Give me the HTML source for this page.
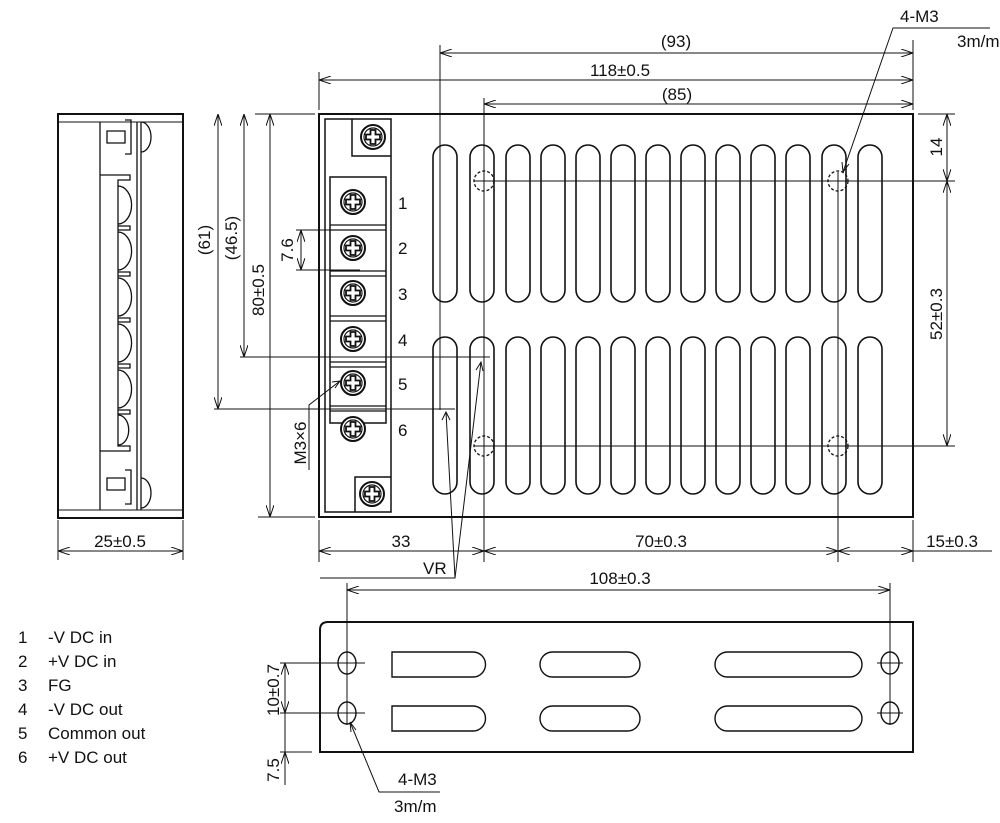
<!DOCTYPE html>
<html><head><meta charset="utf-8"><style>
html,body{margin:0;padding:0;background:#fff}
svg{display:block}
text{font-family:"Liberation Sans",sans-serif;fill:#111}
</style></head><body>
<svg width="1000" height="823" viewBox="0 0 1000 823" xmlns="http://www.w3.org/2000/svg">
<defs>
<marker id="a" viewBox="0 0 12 8" refX="12" refY="4" markerWidth="12" markerHeight="8" markerUnits="userSpaceOnUse" orient="auto-start-reverse">
<path d="M0,0 L12,4 L0,8" fill="none" stroke="#111" stroke-width="1"/>
</marker>
<g id="scr"><circle r="12" fill="#fff" stroke="#111" stroke-width="2"/><circle r="9" fill="none" stroke="#111" stroke-width="1.2"/><path d="M-2.5,-7 h5 v4.5 h4.5 v5 h-4.5 v4.5 h-5 v-4.5 h-4.5 v-5 h4.5z" fill="none" stroke="#111" stroke-width="1.8"/></g>
<g id="slot"><rect x="-12" y="0" width="24" height="157" rx="12" fill="none" stroke="#111" stroke-width="1.6"/></g>
</defs>
<g stroke="#111" fill="none" stroke-width="1">

<!-- side view -->
<rect x="58" y="114" width="125" height="404" stroke-width="2"/>
<line x1="58" y1="122" x2="183" y2="122"/>
<line x1="58" y1="510" x2="183" y2="510"/>
<line x1="100" y1="122" x2="100" y2="510" stroke-width="1.3"/>
<line x1="137" y1="122" x2="137" y2="510" stroke-width="1.3"/>
<line x1="141" y1="122" x2="141" y2="510" stroke-width="1.3"/>
<path d="M107,131 h18 v12 h-18z M125,120 h6 v34 h-6" stroke-width="1.3"/>
<path d="M141,122 a10,15 0 0 1 0,30" stroke-width="1.3"/>
<path d="M107,478 h18 v12 h-18z M125,470 h6 v34 h-6" stroke-width="1.3"/>
<path d="M141,478 a10,15 0 0 1 0,30" stroke-width="1.3"/>
<path d="M100,175 h30 v5 h-12 v266 h12 v5 h-30" stroke-width="1.3"/>
<path d="M118,186 a10,14 0 0 1 0,38 M118,232 a10,14 0 0 1 0,38 M118,278 a10,14 0 0 1 0,38 M118,324 a10,14 0 0 1 0,38 M118,370 a10,14 0 0 1 0,38 M118,415 a10,14 0 0 1 0,30" stroke-width="1.3"/>
<path d="M118,226 h12 v4 h-12 M118,272 h12 v4 h-12 M118,318 h12 v4 h-12 M118,364 h12 v4 h-12 M118,410 h12 v4 h-12" stroke-width="1.3"/>
<line x1="58" y1="520" x2="58" y2="560"/><line x1="183" y1="520" x2="183" y2="560"/>
<line x1="58" y1="551" x2="183" y2="551" marker-start="url(#a)" marker-end="url(#a)"/>

<!-- left dims -->
<line x1="255" y1="114" x2="315" y2="114"/>
<line x1="240" y1="357" x2="490" y2="357"/>
<line x1="214" y1="409" x2="455" y2="409"/>
<line x1="258" y1="517" x2="315" y2="517"/>
<line x1="218" y1="114" x2="218" y2="409" marker-start="url(#a)" marker-end="url(#a)"/>
<line x1="244" y1="114" x2="244" y2="357" marker-start="url(#a)" marker-end="url(#a)"/>
<line x1="270" y1="114" x2="270" y2="517" marker-start="url(#a)" marker-end="url(#a)"/>
<line x1="296" y1="230" x2="360" y2="230"/><line x1="296" y1="270" x2="360" y2="270"/>
<line x1="301" y1="230" x2="301" y2="270" marker-start="url(#a)" marker-end="url(#a)"/>
<polyline points="309,420 309,405 340,381"/><path d="M332,382 L340,381 L335,388"/>
<line x1="309" y1="420" x2="309" y2="470"/>

<!-- main box -->
<rect x="319" y="114" width="594" height="403" stroke-width="2"/>
<rect x="325" y="119" width="66" height="393" stroke-width="1.5"/>
<path d="M352,119 v37 h39" stroke-width="1.5"/>
<path d="M355,512 v-35 h36" stroke-width="1.5"/>
<rect x="330" y="177" width="56" height="246" stroke-width="1.5"/>
<path d="M330,225 h56 M330,230 h56 M330,271 h56 M330,276 h56 M330,316 h56 M330,321 h56 M330,362 h56 M330,367 h56 M330,406 h56 M330,411 h56" stroke-width="1.2"/>
<line x1="319" y1="72" x2="319" y2="110"/>
<line x1="913" y1="40" x2="913" y2="110"/>
<line x1="440" y1="45" x2="440" y2="410"/>
<line x1="484" y1="98" x2="484" y2="562"/>
<line x1="838" y1="172" x2="838" y2="562"/>
<line x1="440" y1="53" x2="913" y2="53" marker-start="url(#a)" marker-end="url(#a)"/>
<line x1="319" y1="80" x2="913" y2="80" marker-start="url(#a)" marker-end="url(#a)"/>
<line x1="484" y1="104" x2="913" y2="104" marker-start="url(#a)" marker-end="url(#a)"/>
<g stroke-width="1.6">
<use href="#slot" x="445" y="145"/><use href="#slot" x="482" y="145"/><use href="#slot" x="518" y="145"/><use href="#slot" x="553" y="145"/><use href="#slot" x="588" y="145"/><use href="#slot" x="623" y="145"/><use href="#slot" x="658" y="145"/><use href="#slot" x="693" y="145"/><use href="#slot" x="728" y="145"/><use href="#slot" x="763" y="145"/><use href="#slot" x="798" y="145"/><use href="#slot" x="834" y="145"/><use href="#slot" x="870" y="145"/>
<use href="#slot" x="445" y="337"/><use href="#slot" x="482" y="337"/><use href="#slot" x="518" y="337"/><use href="#slot" x="553" y="337"/><use href="#slot" x="588" y="337"/><use href="#slot" x="623" y="337"/><use href="#slot" x="658" y="337"/><use href="#slot" x="693" y="337"/><use href="#slot" x="728" y="337"/><use href="#slot" x="763" y="337"/><use href="#slot" x="798" y="337"/><use href="#slot" x="834" y="337"/><use href="#slot" x="870" y="337"/>
</g>
<g stroke-dasharray="3,2" stroke-width="1.3">
<circle cx="484" cy="181" r="10"/><circle cx="838" cy="181" r="10"/><circle cx="484" cy="446" r="10"/><circle cx="838" cy="446" r="10"/>
</g>
<line x1="474" y1="181" x2="955" y2="181"/>
<line x1="474" y1="446" x2="955" y2="446"/>
<line x1="918" y1="114" x2="955" y2="114"/>
<line x1="947" y1="114" x2="947" y2="181" marker-start="url(#a)" marker-end="url(#a)"/>
<line x1="947" y1="181" x2="947" y2="446" marker-start="url(#a)" marker-end="url(#a)"/>
<polyline points="990,28 893,28 843,172"/><path d="M842,162 L843,172 L849,164"/>
<line x1="319" y1="520" x2="319" y2="562"/>
<line x1="913" y1="520" x2="913" y2="562"/>
<line x1="319" y1="551" x2="484" y2="551" marker-start="url(#a)" marker-end="url(#a)"/>
<line x1="484" y1="551" x2="838" y2="551" marker-start="url(#a)" marker-end="url(#a)"/>
<line x1="838" y1="551" x2="913" y2="551" marker-start="url(#a)" marker-end="url(#a)"/>
<line x1="913" y1="551" x2="992" y2="551"/>
<polyline points="320,578 455,578 446,412"/><path d="M442,420 L446,412 L450,420"/>
<line x1="455" y1="578" x2="481" y2="362"/><path d="M476,370 L481,362 L483,371"/>

<!-- bottom view -->
<path d="M320,752 V630 Q320,622 328,622 H913 V752 Z" stroke-width="2"/>
<g stroke-width="1.4">
<ellipse cx="347" cy="663" rx="9" ry="11"/><ellipse cx="347" cy="713" rx="9" ry="11"/>
<ellipse cx="890" cy="663" rx="9" ry="11"/><ellipse cx="890" cy="713" rx="9" ry="11"/>
<path d="M392,652 H473 A12.5,12.5 0 0 1 473,677 H392 Z"/>
<path d="M392,706 H473 A12.5,12.5 0 0 1 473,731 H392 Z"/>
<rect x="540" y="652" width="100" height="25" rx="12.5"/>
<rect x="540" y="706" width="100" height="25" rx="12.5"/>
<rect x="715" y="652" width="147" height="25" rx="12.5"/>
<rect x="715" y="706" width="147" height="25" rx="12.5"/>
</g>
<line x1="347" y1="583" x2="347" y2="725"/>
<line x1="890" y1="583" x2="890" y2="725"/>
<line x1="347" y1="590" x2="890" y2="590" marker-start="url(#a)" marker-end="url(#a)"/>
<line x1="280" y1="663" x2="365" y2="663"/>
<line x1="280" y1="713" x2="365" y2="713"/>
<line x1="877" y1="663" x2="903" y2="663"/><line x1="877" y1="713" x2="903" y2="713"/>
<line x1="280" y1="752" x2="312" y2="752"/>
<line x1="285" y1="663" x2="285" y2="713" marker-start="url(#a)" marker-end="url(#a)"/>
<line x1="285" y1="713" x2="285" y2="752"/>
<line x1="285" y1="785" x2="285" y2="752" marker-end="url(#a)"/>
<polyline points="350,722 379,792 440,792"/><path d="M350,722 L351,732 M350,722 L356,730"/>
</g>
<g>
<use href="#scr" x="373" y="137"/><use href="#scr" x="372" y="494"/>
<use href="#scr" x="353" y="202"/><use href="#scr" x="353" y="248"/><use href="#scr" x="353" y="293"/><use href="#scr" x="353" y="339"/><use href="#scr" x="353" y="383"/><use href="#scr" x="353" y="429"/>
</g>
<g font-size="17">
<text x="398" y="209">1</text><text x="398" y="254">2</text><text x="398" y="300">3</text><text x="398" y="346">4</text><text x="398" y="390">5</text><text x="398" y="436">6</text>
<text x="120" y="547" text-anchor="middle">25±0.5</text>
<text x="401" y="547" text-anchor="middle">33</text>
<text x="661" y="547" text-anchor="middle">70±0.3</text>
<text x="952" y="547" text-anchor="middle">15±0.3</text>
<text x="676" y="47" text-anchor="middle">(93)</text>
<text x="620" y="76" text-anchor="middle">118±0.5</text>
<text x="677" y="100" text-anchor="middle">(85)</text>
<text x="900" y="22">4-M3</text>
<text x="957" y="47">3m/m</text>
<text x="423" y="574">VR</text>
<text x="620" y="584" text-anchor="middle">108±0.3</text>
<text x="398" y="785">4-M3</text>
<text x="394" y="812">3m/m</text>
<text transform="translate(210,240) rotate(-90)" text-anchor="middle">(61)</text>
<text transform="translate(237,238) rotate(-90)" text-anchor="middle">(46.5)</text>
<text transform="translate(264,290) rotate(-90)" text-anchor="middle">80±0.5</text>
<text transform="translate(293,250) rotate(-90)" text-anchor="middle">7.6</text>
<text transform="translate(306,443) rotate(-90)" text-anchor="middle">M3×6</text>
<text transform="translate(942,147) rotate(-90)" text-anchor="middle">14</text>
<text transform="translate(942,314) rotate(-90)" text-anchor="middle">52±0.3</text>
<text transform="translate(279,690) rotate(-90)" text-anchor="middle">10±0.7</text>
<text transform="translate(279,770) rotate(-90)" text-anchor="middle">7.5</text>
<text x="18" y="643">1</text><text x="48" y="643">-V DC in</text>
<text x="18" y="667">2</text><text x="48" y="667">+V DC in</text>
<text x="18" y="691">3</text><text x="48" y="691">FG</text>
<text x="18" y="715">4</text><text x="48" y="715">-V DC out</text>
<text x="18" y="739">5</text><text x="48" y="739">Common out</text>
<text x="18" y="763">6</text><text x="48" y="763">+V DC out</text>
</g>
</svg>
</body></html>
